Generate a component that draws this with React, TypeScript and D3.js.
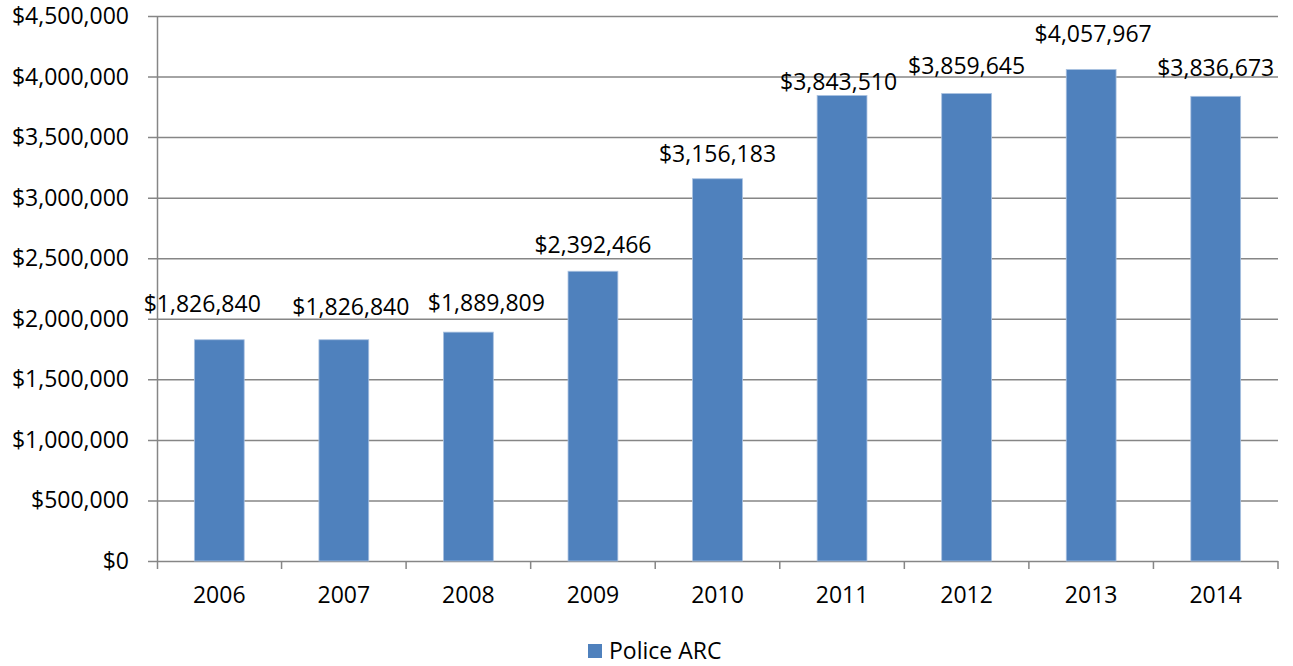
import React from "react";
import * as d3 from "d3";

const years = ["2006", "2007", "2008", "2009", "2010", "2011", "2012", "2013", "2014"];
const values = [1826840, 1826840, 1889809, 2392466, 3156183, 3843510, 3859645, 4057967, 3836673];
const yTicks = [0, 500000, 1000000, 1500000, 2000000, 2500000, 3000000, 3500000, 4000000, 4500000];
const seriesName = "Police ARC";
// layout-only nudges for data labels (dx, dy in px), as placed in the original
const labelNudgeX = [-17, 7, 18, 0, 0, -3.5, 0, 2, 0];
const labelNudgeY = [-8, -5, -1, 1.5, 3, 14, 0, -8, 0];

const W = 1293, H = 666;
const left = 157, right = 1278, top = 16, bottom = 561;
const FONT = "'Open Sans', sans-serif";
const FS = 23;

export default function App() {
  const x = d3.scaleBand<string>().domain(years).range([left, right]).paddingInner(0.6).paddingOuter(0.3);
  const xb = d3.scaleBand<string>().domain(years).range([left, right]);
  const y = d3.scaleLinear().domain([0, 4500000]).range([bottom, top]);
  const fmt = (v: number) => "$" + d3.format(",")(v);
  const grid = "#868686";
  return (
    <svg width={W} height={H} style={{ position: "absolute", left: 0, top: 0, background: "#fff" }}>
      {yTicks.map((t) => (
        <g key={t}>
          <line x1={left - 9} x2={right} y1={y(t) + 0.5} y2={y(t) + 0.5} stroke={grid} strokeWidth={1.5} />
          <text x={129} y={y(t)} dy="0.35em" textAnchor="end" fontFamily={FONT} fontSize={FS} fill="#000">
            {fmt(t)}
          </text>
        </g>
      ))}
      <line x1={left + 0.5} x2={left + 0.5} y1={top} y2={bottom + 8} stroke={grid} strokeWidth={1.5} />
      {years.map((yr) => (
        <line key={"t" + yr} x1={(xb(yr) as number) + xb.bandwidth()} x2={(xb(yr) as number) + xb.bandwidth()}
          y1={bottom} y2={bottom + 8} stroke={grid} strokeWidth={1.5} />
      ))}
      {years.map((yr, i) => (
        <g key={yr}>
          <rect x={x(yr)} y={y(values[i])} width={x.bandwidth()} height={bottom - y(values[i])}
            fill="#4F81BD" stroke="#a9c1e0" strokeWidth={0.8} />
          <text x={(x(yr) as number) + x.bandwidth() / 2 + labelNudgeX[i]} y={y(values[i]) - 28 + labelNudgeY[i]}
            dy="0.35em" textAnchor="middle" fontFamily={FONT} fontSize={FS} fill="#000">
            {fmt(values[i])}
          </text>
          <text x={(x(yr) as number) + x.bandwidth() / 2} y={595} dy="0.35em" textAnchor="middle"
            fontFamily={FONT} fontSize={FS} fill="#000">
            {yr}
          </text>
        </g>
      ))}
      <rect x={588} y={644} width={14} height={14} fill="#4F81BD" />
      <text x={609} y={651} dy="0.35em" fontFamily={FONT} fontSize={FS} fill="#000">{seriesName}</text>
    </svg>
  );
}
